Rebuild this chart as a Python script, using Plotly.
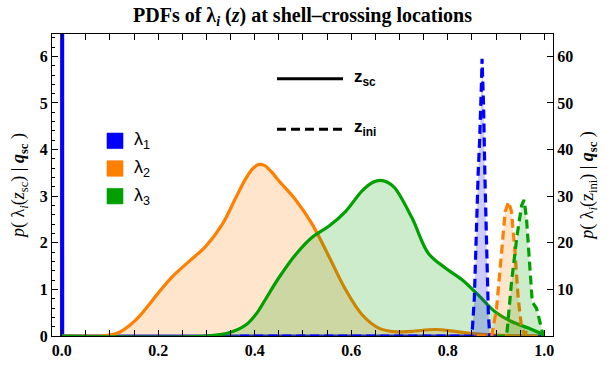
import plotly.graph_objects as go

# ---------------- data ----------------
# lambda_1 at z_sc : spike at 0
l1_sc_x = [0.0, 0.0005, 0.001, 0.0015, 0.002, 1.0]
l1_sc_y = [0.0, 60.0, 60.0, 60.0, 0.0, 0.0]

l2_sc_x = [0.0, 0.08, 0.099, 0.12, 0.14, 0.161, 0.18, 0.2, 0.23, 0.264, 0.299, 0.333, 0.36, 0.38,
           0.395, 0.408, 0.42, 0.435, 0.45, 0.485, 0.519, 0.554, 0.588, 0.623, 0.657, 0.692, 0.725,
           0.774, 0.815, 0.85, 0.898, 0.967, 0.985]
l2_sc_y = [0.0, 0.0, 0.02, 0.08, 0.22, 0.42, 0.66, 0.92, 1.28, 1.6, 1.93, 2.4, 2.95, 3.35,
           3.58, 3.68, 3.66, 3.52, 3.33, 2.92, 2.4, 1.7, 1.0, 0.45, 0.17, 0.09, 0.1,
           0.14, 0.1, 0.05, 0.02, 0.0, 0.0]

l3_sc_x = [0.0, 0.3, 0.347, 0.382, 0.405, 0.423, 0.45, 0.485, 0.519, 0.554, 0.588, 0.623, 0.645,
           0.66, 0.675, 0.69, 0.726, 0.76, 0.795, 0.829, 0.864, 0.898, 0.932, 0.967, 0.998]
l3_sc_y = [0.0, 0.0, 0.07, 0.24, 0.5, 0.8, 1.25, 1.75, 2.12, 2.36, 2.67, 3.12, 3.3,
           3.34, 3.3, 3.18, 2.53, 1.77, 1.46, 1.21, 0.87, 0.52, 0.31, 0.17, 0.03]

# z_ini densities (right axis)
l1_ini_x = [0.37, 0.85, 0.855, 0.86, 0.863, 0.866, 0.868, 0.869, 0.870, 0.871, 0.872,
            0.874, 0.877, 0.881, 0.884, 0.887, 0.9]
l1_ini_y = [0.0, 0.0, 8.0, 28.0, 35.0, 42.0, 47.0, 53.0, 55.0, 59.5, 57.0,
            50.0, 34.0, 14.0, 5.0, 0.0, 0.0]

l2_ini_x = [0.86, 0.891, 0.901, 0.912, 0.919, 0.926, 0.932, 0.939, 0.946, 0.953, 0.96,
            0.963, 0.966, 0.97, 1.0]
l2_ini_y = [0.0, 0.0, 5.9, 18.4, 26.7, 28.8, 26.7, 18.4, 8.0, 1.7, 0.3,
            1.0, 0.2, 0.0, 0.0]

l3_ini_x = [0.9, 0.922, 0.932, 0.943, 0.953, 0.958, 0.963, 0.97, 0.975, 0.984, 0.991, 0.998]
l3_ini_y = [0.0, 0.0, 11.5, 21.2, 28.0, 29.2, 25.4, 14.2, 7.3, 5.9, 3.1, 0.0]

x_ticks = [0.0, 0.2, 0.4, 0.6, 0.8, 1.0]
y_ticks = [0, 1, 2, 3, 4, 5, 6]
y2_ticks = [10, 20, 30, 40, 50, 60]

BLUE = "#0000FF"
ORANGE = "#FF7F00"
GREEN = "#00A000"
DASH = "9px,5px"

def rgba(hexc, a):
    h = hexc.lstrip("#")
    return "rgba(%d,%d,%d,%.2f)" % (int(h[0:2], 16), int(h[2:4], 16), int(h[4:6], 16), a)

W, H = 612, 371
L, R, T, B = 52, 59, 34, 26

fig = go.Figure()

solid = [(l1_sc_x, l1_sc_y, BLUE, "linear"), (l2_sc_x, l2_sc_y, ORANGE, "spline"),
         (l3_sc_x, l3_sc_y, GREEN, "spline")]
for xs, ys, c, shp in solid:
    fig.add_trace(go.Scatter(x=xs, y=ys, mode="lines", fill="tozeroy",
                             fillcolor=rgba(c, 0.0 if c == BLUE else 0.2),
                             line=dict(color=c, width=3.2, shape=shp, smoothing=1.0),
                             showlegend=False, hoverinfo="skip"))

dashed = [(l1_ini_x, l1_ini_y, BLUE), (l2_ini_x, l2_ini_y, ORANGE), (l3_ini_x, l3_ini_y, GREEN)]
for xs, ys, c in dashed:
    fig.add_trace(go.Scatter(x=xs, y=ys, mode="lines", fill="tozeroy", yaxis="y2",
                             fillcolor=rgba(c, 0.2),
                             line=dict(color=c, width=3.2, dash=DASH),
                             showlegend=False, hoverinfo="skip"))

PW = W - L - R
PH = H - T - B

def px(xp):
    return (xp - L) / PW

def py(yp):
    return (H - B - yp) / PH

shapes = []
annotations = []
# colour legend
for i, (c, lab) in enumerate([(BLUE, "λ<sub>1</sub>"), (ORANGE, "λ<sub>2</sub>"), (GREEN, "λ<sub>3</sub>")]):
    yc = 144 + i * 28.5
    shapes.append(dict(type="rect", xref="paper", yref="paper",
                       x0=px(107), x1=px(123), y0=py(yc + 8), y1=py(yc - 8),
                       fillcolor=c, line=dict(color=rgba(c, 0.6), width=1)))
    annotations.append(dict(xref="paper", yref="paper", x=px(132), y=py(yc), text=lab,
                            showarrow=False, xanchor="left", yanchor="middle",
                            font=dict(family="Liberation Sans", size=18, color="black")))
# line-style legend
for yc, dsh, lab in [(80, "solid", "<b>z<sub>sc</sub></b>"), (132, DASH, "<b>z<sub>ini</sub></b>")]:
    shapes.append(dict(type="line", xref="paper", yref="paper",
                       x0=px(277), x1=px(343), y0=py(yc), y1=py(yc),
                       line=dict(color="black", width=3, dash=dsh)))
    annotations.append(dict(xref="paper", yref="paper", x=px(352), y=py(yc - 1), text=lab,
                            showarrow=False, xanchor="left", yanchor="middle",
                            font=dict(family="Liberation Sans", size=17, color="black")))

serif = "Liberation Serif"
fig.update_layout(
    width=W, height=H,
    margin=dict(l=L, r=R, t=T, b=B),
    paper_bgcolor="white", plot_bgcolor="white",
    title=dict(text="<b>PDFs of λ<sub><i>i</i></sub> (<i>z</i>) at shell–crossing locations</b>",
               x=(L + PW / 2) / W, xanchor="center", y=1 - 15 / H, yanchor="middle",
               font=dict(family=serif, size=20, color="black")),
    xaxis=dict(range=[-0.02, 1.018], tickvals=x_ticks, tickformat=".1f",
               ticks="inside", ticklen=6, tickwidth=1, tickcolor="black",
               minor=dict(dtick=0.05, tick0=0, ticks="inside", ticklen=3, tickcolor="black"),
               showline=True, linecolor="black", linewidth=1.3, mirror="allticks",
               showgrid=False, zeroline=False,
               tickfont=dict(family=serif, size=16, color="black", weight="bold")),
    yaxis=dict(range=[0, 6.48], tickvals=y_ticks, ticks="inside", ticklen=6,
               tickcolor="black",
               minor=dict(dtick=0.2, tick0=0, ticks="inside", ticklen=3, tickcolor="black"),
               showline=True, linecolor="black", linewidth=1.3,
               showgrid=False, zeroline=False,
               tickfont=dict(family=serif, size=16, color="black", weight="bold"),
               title=dict(text="<i>p</i>( λ<sub><i>i</i></sub>(<i>z</i><sub>sc</sub>) | <b><i>q</i><sub>sc</sub></b> )",
                          font=dict(family=serif, size=18, color="black"), standoff=10)),
    yaxis2=dict(range=[0, 64.8], tickvals=y2_ticks, overlaying="y", side="right",
                ticks="inside", ticklen=6, tickcolor="black",
                showline=True, linecolor="black", linewidth=1.3,
                showgrid=False, zeroline=False,
                tickfont=dict(family=serif, size=16, color="black", weight="bold"),
                title=dict(text="<i>p</i>( λ<sub><i>i</i></sub>(z<sub>ini</sub>) | <b><i>q</i><sub>sc</sub></b> )",
                           font=dict(family=serif, size=18, color="black"), standoff=8)),
    shapes=shapes, annotations=annotations,
    showlegend=False,
)

fig.write_html("out.html")
